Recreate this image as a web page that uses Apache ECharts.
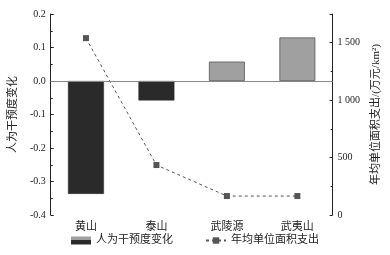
<!DOCTYPE html>
<html><head><meta charset="utf-8">
<script src="https://cdn.jsdelivr.net/npm/echarts@6/dist/echarts.min.js"></script>
<style>html,body{margin:0;padding:0;background:#fff}#c{width:390px;height:255px}</style>
</head><body><div id="c"></div>
<script>
const categories = ['黄山', '泰山', '武陵源', '武夷山'];
const interventionChange = [-0.337, -0.058, 0.058, 0.130];
const annualSpending = [1540, 435, 165, 165];
const leftTicks = { min: -0.4, max: 0.2, interval: 0.1 };
const rightTicks = { min: 0, max: 1750, interval: 500 };

const FONT = "'Liberation Serif', 'Noto Sans CJK SC', serif";
const chart = echarts.init(document.getElementById('c'), null, { renderer: 'canvas' });
const axisCommon = {
  axisLine: { show: true, lineStyle: { color: '#222', width: 1 } },
  axisTick: { show: true, inside: true, length: 3, lineStyle: { color: '#222' } },
  minorTick: { show: true, splitNumber: 2, length: 2, lineStyle: { color: '#222' } },
  splitLine: { show: false },
  axisLabel: { color: '#222', fontFamily: FONT, fontSize: 10, margin: 5 }
};
chart.setOption({
  animation: false,
  textStyle: { fontFamily: FONT },
  grid: { left: 44, right: 57, top: 14, bottom: 40 },
  legend: {
    bottom: 4, left: 'center', itemGap: 32, itemWidth: 20, itemHeight: 8,
    textStyle: { fontFamily: FONT, fontSize: 11, color: '#222' },
    data: [
      { name: '人为干预度变化', icon: 'rect',
        itemStyle: { color: new echarts.graphic.LinearGradient(0, 0, 0, 1, [
          { offset: 0, color: '#a0a0a0' }, { offset: 0.45, color: '#a0a0a0' },
          { offset: 0.5, color: '#2a2a2a' }, { offset: 1, color: '#2a2a2a' }]), borderWidth: 0 } },
      { name: '年均单位面积支出' }
    ]
  },
  graphic: [{ type: 'text', left: 72, top: 237, style: { text: '±', fontSize: 7, fill: '#888', fontFamily: FONT } }],
  xAxis: {
    type: 'category', data: categories, boundaryGap: true,
    axisLine: { lineStyle: { color: '#222' } },
    axisTick: { inside: true, alignWithLabel: true, length: 3, lineStyle: { color: '#222' } },
    axisLabel: { color: '#222', fontFamily: FONT, fontSize: 11, margin: 7 }
  },
  yAxis: [
    Object.assign({}, axisCommon, {
      type: 'value', position: 'left', min: leftTicks.min, max: leftTicks.max, interval: leftTicks.interval,
      name: '人为干预度变化', nameLocation: 'middle', nameRotate: 90, nameGap: 27,
      nameTextStyle: { fontFamily: FONT, fontSize: 11, color: '#222' },
      axisLabel: Object.assign({}, axisCommon.axisLabel, { formatter: v => v.toFixed(1) })
    }),
    Object.assign({}, axisCommon, {
      type: 'value', position: 'right', min: rightTicks.min, max: rightTicks.max, interval: rightTicks.interval,
      name: '年均单位面积支出/(万元/km²)', nameLocation: 'middle', nameRotate: 90, nameGap: 31,
      nameTextStyle: { fontFamily: FONT, fontSize: 11, color: '#222' },
      axisLabel: Object.assign({}, axisCommon.axisLabel, { showMaxLabel: false,
        formatter: v => v >= 1000 ? Math.floor(v / 1000) + ' ' + String(v % 1000).padStart(3, '0') : String(v) })
    })
  ],
  series: [
    {
      name: '人为干预度变化', type: 'bar', yAxisIndex: 0, barWidth: '51%',
      data: interventionChange.map(v => ({ value: v, itemStyle: v < 0
        ? { color: '#2a2a2a', borderColor: '#2a2a2a', borderWidth: 0.5 }
        : { color: '#a0a0a0', borderColor: '#555', borderWidth: 0.8 } })),
      markLine: { silent: true, symbol: 'none', label: { show: false },
        lineStyle: { color: '#888', type: 'solid', width: 1 }, data: [{ yAxis: 0 }] }
    },
    {
      name: '年均单位面积支出', type: 'line', yAxisIndex: 1, data: annualSpending,
      symbol: 'rect', symbolSize: 6,
      itemStyle: { color: '#555' },
      lineStyle: { color: '#555', width: 1, type: [3, 3] }
    }
  ]
});
</script></body></html>
